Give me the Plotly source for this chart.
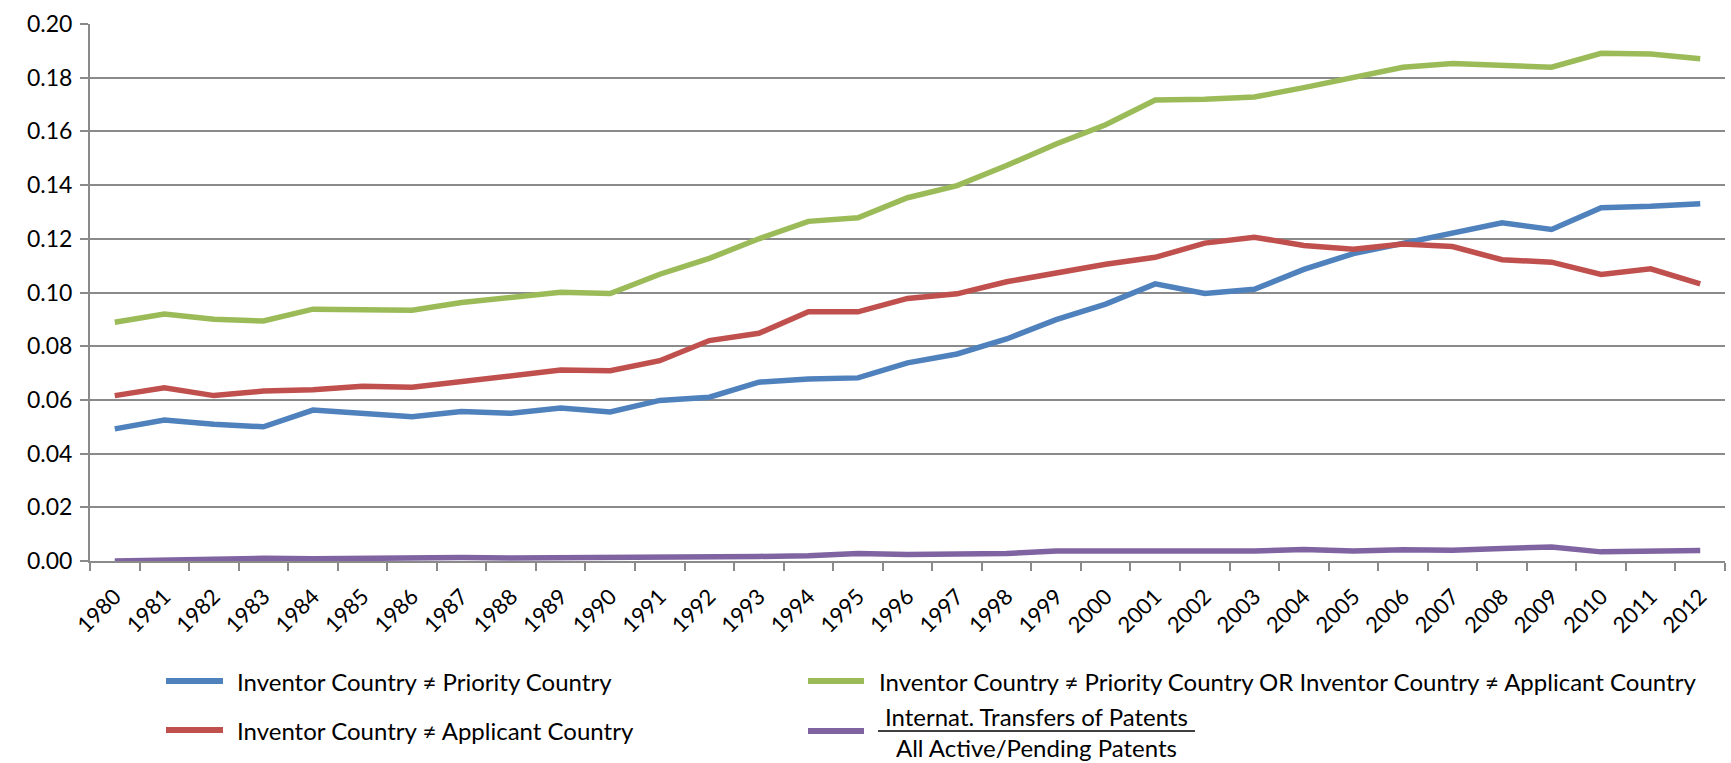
import plotly.graph_objects as go

# Share of patents with international ownership, 1980-2012
years = [str(y) for y in range(1980, 2013)]

inv_ne_priority = [
    0.0492, 0.0525, 0.0509, 0.0500, 0.0562, 0.0550, 0.0537, 0.0557, 0.0550, 0.0570,
    0.0555, 0.0598, 0.0610, 0.0666, 0.0678, 0.0682, 0.0738, 0.0771, 0.0827, 0.0899,
    0.0957, 0.1032, 0.0996, 0.1012, 0.1086, 0.1145, 0.1183, 0.1220, 0.1260, 0.1235,
    0.1316, 0.1321, 0.1331,
]
inv_ne_either = [
    0.0889, 0.0920, 0.0900, 0.0894, 0.0938, 0.0937, 0.0934, 0.0963, 0.0981, 0.1001,
    0.0996, 0.1068, 0.1127, 0.1200, 0.1265, 0.1278, 0.1353, 0.1398, 0.1473, 0.1553,
    0.1625, 0.1717, 0.1720, 0.1728, 0.1763, 0.1800, 0.1839, 0.1853, 0.1847, 0.1839,
    0.1891, 0.1888, 0.1871,
]
inv_ne_applicant = [
    0.0616, 0.0645, 0.0616, 0.0633, 0.0638, 0.0651, 0.0647, 0.0668, 0.0693, 0.0711,
    0.0709, 0.0746, 0.0821, 0.0848, 0.0928, 0.0928, 0.0978, 0.0995, 0.1040, 0.1074,
    0.1105, 0.1131, 0.1184, 0.1206, 0.1175, 0.1161, 0.1181, 0.1171, 0.1122, 0.1113,
    0.1067, 0.1088, 0.1032,
]
transfers_share = [
    0.0000, 0.0005, 0.0007, 0.0010, 0.0008, 0.0010, 0.0013, 0.0013, 0.0011, 0.0012,
    0.0014, 0.0011, 0.0014, 0.0017, 0.0020, 0.0028, 0.0024, 0.0026, 0.0028, 0.0037,
    0.0037, 0.0040, 0.0042, 0.0037, 0.0043, 0.0037, 0.0042, 0.0040, 0.0047, 0.0052,
    0.0034, 0.0034, 0.0039,
]

y_ticks = [0.00, 0.02, 0.04, 0.06, 0.08, 0.10, 0.12, 0.14, 0.16, 0.18, 0.20]

BLUE, GREEN, RED, PURPLE = "#4F81BD", "#9BBB59", "#C0504D", "#8064A2"
GRID = "#8a8a8a"
FONT = "Lato, Carlito, 'Open Sans', sans-serif"

W, H = 1731, 763
ML, MR, MT, MB = 90, 6, 24, 202

series = [
    ("Inventor Country ≠ Priority Country", inv_ne_priority, BLUE),
    ("Inventor Country ≠ Priority Country OR Inventor Country ≠ Applicant Country", inv_ne_either, GREEN),
    ("Inventor Country ≠ Applicant Country", inv_ne_applicant, RED),
    ("Internat. Transfers of Patents / All Active/Pending Patents", transfers_share, PURPLE),
]

fig = go.Figure()
for name, vals, col in series:
    fig.add_trace(go.Scatter(
        x=years, y=vals, mode="lines", name=name,
        line=dict(color=col, width=5.5), showlegend=False,
    ))

fig.update_layout(
    width=W, height=H,
    margin=dict(l=ML, r=MR, t=MT, b=MB, pad=0),
    paper_bgcolor="white", plot_bgcolor="white",
    font=dict(family=FONT, size=24, color="#000000"),
)
fig.update_xaxes(
    type="category", range=[-0.5, len(years) - 0.5],
    showgrid=False, showline=True, linecolor=GRID, linewidth=2,
    ticks="outside", tickson="boundaries", ticklen=8, tickwidth=2, tickcolor=GRID,
    tickangle=-45, tickfont=dict(size=22), zeroline=False, ticklabelstandoff=12,
)
fig.update_yaxes(
    range=[0, 0.2], tickvals=y_ticks, tickformat=".2f",
    showgrid=True, gridcolor=GRID, gridwidth=2,
    showline=True, linecolor=GRID, linewidth=2,
    ticks="outside", ticklen=8, tickwidth=2, tickcolor=GRID,
    tickfont=dict(size=23), zeroline=False, ticklabelstandoff=3,
)

# Legend drawn in pixel positions converted to paper coordinates
PW, PH = W - ML - MR, H - MT - MB


def px(x):
    return (x - ML) / PW


def py(y):
    return (H - MB - y) / PH


LEG_SIZE = 24
legend_items = [
    (166, 223, 235, 681, series[0][0], BLUE),
    (808, 864, 877, 681, series[1][0], GREEN),
    (166, 223, 235, 730, series[2][0], RED),
]
for x0, x1, tx, ty, label, col in legend_items:
    fig.add_shape(type="line", xref="paper", yref="paper",
                  x0=px(x0), x1=px(x1), y0=py(ty), y1=py(ty),
                  line=dict(color=col, width=6))
    fig.add_annotation(xref="paper", yref="paper", x=px(tx), y=py(ty),
                       text=label, showarrow=False, xanchor="left", yanchor="middle",
                       font=dict(size=LEG_SIZE))

# Fraction-style label for the transfers series
fig.add_shape(type="line", xref="paper", yref="paper",
              x0=px(808), x1=px(864), y0=py(731), y1=py(731),
              line=dict(color=PURPLE, width=6))
fig.add_shape(type="line", xref="paper", yref="paper",
              x0=px(878), x1=px(1195), y0=py(731), y1=py(731),
              line=dict(color="#000000", width=1.5))
fig.add_annotation(xref="paper", yref="paper", x=px(1036), y=py(716),
                   text="Internat. Transfers of Patents", showarrow=False,
                   xanchor="center", yanchor="middle", font=dict(size=LEG_SIZE))
fig.add_annotation(xref="paper", yref="paper", x=px(1036), y=py(747),
                   text="All Active/Pending Patents", showarrow=False,
                   xanchor="center", yanchor="middle", font=dict(size=LEG_SIZE))

fig.write_html("out.html")
